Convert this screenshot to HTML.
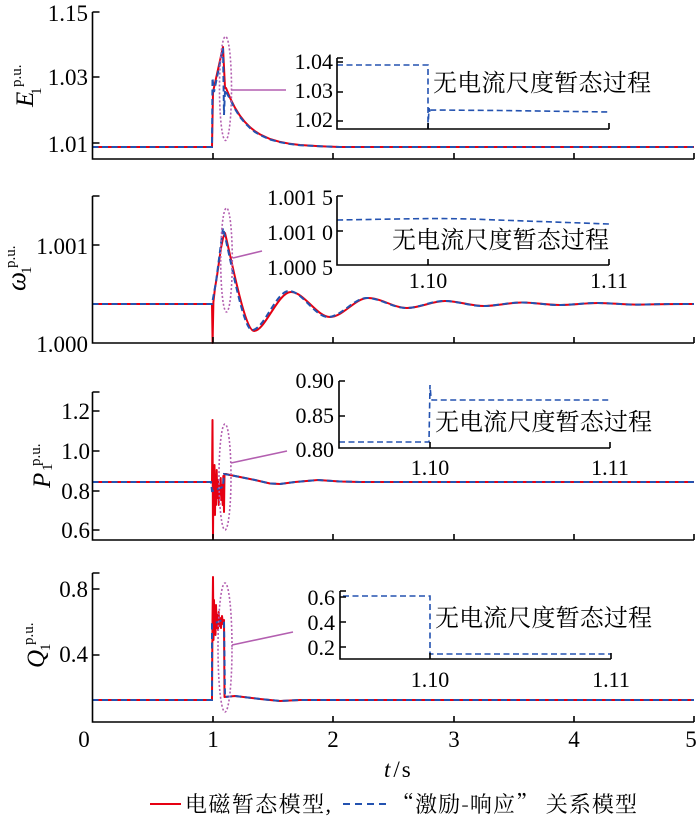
<!DOCTYPE html>
<html><head><meta charset="utf-8"><style>
html,body{margin:0;padding:0;background:#fff;}
svg{display:block;}
.n{font-family:"Liberation Serif",serif;font-size:23px;fill:#000;}
.ni{font-family:"Liberation Serif",serif;font-size:22px;fill:#000;}
.cj{font-family:"Liberation Serif","Noto Serif CJK SC",serif;font-size:24px;fill:#000;}
.lg{font-family:"Liberation Serif","Noto Serif CJK SC",serif;font-size:22px;fill:#000;}
.ax{stroke:#000;stroke-width:1.6;fill:none;}
.red{stroke:#e60012;stroke-width:2;fill:none;stroke-linejoin:round;}
.blu{stroke:#2352b0;stroke-width:2;fill:none;stroke-dasharray:6 3.5;}
.bi{stroke:#2352b0;stroke-width:1.6;fill:none;stroke-dasharray:6 3.5;}
.el{stroke:#b35fb0;stroke-width:1.6;fill:none;stroke-dasharray:2 2;}
.cn{stroke:#b35fb0;stroke-width:1.6;fill:none;}
</style></head><body>
<svg width="700" height="822" viewBox="0 0 700 822" xmlns="http://www.w3.org/2000/svg">
<rect width="700" height="822" fill="#fff"/>

<!-- ============ Panel 1: E ============ -->
<path class="red" d="M92.5,147 L212,147 L213,92 L223,47 L225,88 L226,88 L230,97.8 L235,107.8 L240,115.8 L245,122.1 L250,127.2 L255,131.2 L260,134.4 L270,139 L280,141.9 L290,143.8 L300,145 L320,146.2 L340,147 L694,147"/>
<path class="blu" d="M92.5,147 L212,147 L212.5,78 L214,92 L223,48 L224,115 L225,90 L230,99 L235,109 L240,117 L245,123 L250,128 L255,132 L260,135 L270,139.5 L280,142.2 L290,144 L300,145.2 L320,146.3 L340,147 L694,147"/>
<ellipse class="el" cx="225.5" cy="88.5" rx="6" ry="52"/>
<line class="cn" x1="231" y1="90" x2="286" y2="90"/>
<path class="ax" d="M92.5,12 L92.5,159 L694,159"/>
<path class="ax" d="M92.5,12 L99.5,12 M92.5,77 L99.5,77 M92.5,143 L99.5,143 M213,159 L213,153 M333,159 L333,153 M454,159 L454,153 M574,159 L574,153 M694,159 L694,153"/>
<text class="n" x="88" y="21" text-anchor="end">1.15</text>
<text class="n" x="88" y="85" text-anchor="end">1.03</text>
<text class="n" x="88" y="152" text-anchor="end">1.01</text>
<g transform="translate(33,107) rotate(-90)"><text class="n" x="0" y="0" style="font-style:italic;font-size:25px">E</text></g>
<g transform="translate(21,87) rotate(-90)"><text class="n" x="0" y="0" style="font-size:15px">p.u.</text></g>
<g transform="translate(41,95) rotate(-90)"><text class="n" x="0" y="0" style="font-size:15px">1</text></g>
<!-- inset 1 -->
<path class="bi" d="M337,65 L428,65 L428,129 M428,129 L429,108 L430,113 L431,110 L500,110.5 L609,112"/>
<path class="ax" d="M337,58 L337,129 L609,129 M337,58 L343,58 M337,62 L343,62 M337,92 L343,92 M337,121 L343,121 M428,129 L428,123 M609,129 L609,123"/>
<text class="ni" x="333" y="69" text-anchor="end">1.04</text>
<text class="ni" x="333" y="98" text-anchor="end">1.03</text>
<text class="ni" x="333" y="127" text-anchor="end">1.02</text>
<text class="cj" x="433" y="91" textLength="218" lengthAdjust="spacing">无电流尺度暂态过程</text>

<!-- ============ Panel 2: omega ============ -->
<path class="red" d="M92.5,304 L212,304 L212.6,343 L213.4,302 L215,288 L217,276 L219,262 L221,248 L223,238 L225,233 C232,262 245,331 254,331 C265,331 278,292 291,292 C304,292 317,317 330,317 C343,317 355,298 368,298 C381,298 394,308 407,308 C420,308 432,301 445,301 C458,301 471,306 484,306 C497,306 509,302.5 522,302.5 C535,302.5 547,305 560,305 C573,305 585,303 598,303 C611,303 623,304.6 636,304.6 C650,304.6 660,303.8 694,304"/>
<path class="blu" d="M92.5,304 L212,304 L216,282 L223,228 C230,255 243,330 252,330 C264,330 276,291 289,291 C302,291 315,317 328,317 C341,317 354,298 367,298 C380,298 393,308 406,308 C419,308 431,301 444,301 C457,301 470,306 483,306 C496,306 508,302.5 521,302.5 C534,302.5 546,305 559,305 C572,305 584,303 597,303 C610,303 622,304.6 635,304.6 C649,304.6 660,303.8 694,304"/>
<ellipse class="el" cx="226.5" cy="260" rx="5.8" ry="52"/>
<line class="cn" x1="233" y1="258" x2="262" y2="251"/>
<path class="ax" d="M92.5,196 L92.5,343 L694,343"/>
<path class="ax" d="M92.5,196 L99.5,196 M92.5,245 L99.5,245 M213,343 L213,337 M333,343 L333,337 M454,343 L454,337 M574,343 L574,337 M694,343 L694,337"/>
<text class="n" x="88" y="254" text-anchor="end">1.001</text>
<text class="n" x="88" y="352" text-anchor="end">1.000</text>
<g transform="translate(25,291) rotate(-90)"><text class="n" x="0" y="0" style="font-style:italic;font-size:27px">ω</text></g>
<g transform="translate(15,268) rotate(-90)"><text class="n" x="0" y="0" style="font-size:15px">p.u.</text></g>
<g transform="translate(31,274) rotate(-90)"><text class="n" x="0" y="0" style="font-size:15px">1</text></g>
<!-- inset 2 -->
<path class="bi" d="M337,220 C400,219 430,218 470,219 L609,224"/>
<path class="ax" d="M337,196 L337,265 L609,265 M337,196 L343,196 M337,231 L343,231 M428,265 L428,259 M609,265 L609,259"/>
<text class="ni" x="333" y="205" text-anchor="end">1.001 5</text>
<text class="ni" x="333" y="240" text-anchor="end">1.001 0</text>
<text class="ni" x="333" y="275" text-anchor="end">1.000 5</text>
<text class="ni" x="428" y="288" text-anchor="middle">1.10</text>
<text class="ni" x="609" y="288" text-anchor="middle">1.11</text>
<text class="cj" x="392" y="248" textLength="217" lengthAdjust="spacing">无电流尺度暂态过程</text>

<!-- ============ Panel 3: P ============ -->
<path class="red" d="M92.5,482 L212,482 L212.5,420 L213,538 L213.5,470 L214,500 L214.5,465 L215,515 L215.5,475 L216,505 L216.7,470 L217.3,498 L218,480 L218.7,505 L219.3,485 L220,495 L220.7,478 L221.3,500 L222,485 L222.7,505 L223.3,476 L224,512 L224.5,474 L226,474 L230,475 L240,477 L255,480 L270,483.5 L280,484 L295,482 L318,480 L340,481.5 L360,482 L694,482"/>
<path class="blu" d="M92.5,482 L211,482 L212,491 L216,490 L220,488 L223,487 L224,474 L230,475 L240,477 L255,480 L270,483.5 L280,484 L295,482 L318,480 L340,481.5 L360,482 L694,482"/>
<ellipse class="el" cx="225" cy="477" rx="6" ry="53"/>
<line class="cn" x1="231" y1="463" x2="287" y2="451"/>
<path class="ax" d="M92.5,392 L92.5,540 L694,540"/>
<path class="ax" d="M92.5,392 L99.5,392 M92.5,411 L99.5,411 M92.5,451 L99.5,451 M92.5,491 L99.5,491 M92.5,530 L99.5,530 M213,540 L213,534 M333,540 L333,534 M454,540 L454,534 M574,540 L574,534 M694,540 L694,534"/>
<text class="n" x="90" y="419" text-anchor="end">1.2</text>
<text class="n" x="90" y="459" text-anchor="end">1.0</text>
<text class="n" x="90" y="499" text-anchor="end">0.8</text>
<text class="n" x="90" y="538" text-anchor="end">0.6</text>
<g transform="translate(50,488) rotate(-90)"><text class="n" x="0" y="0" style="font-style:italic;font-size:25px">P</text></g>
<g transform="translate(40,466) rotate(-90)"><text class="n" x="0" y="0" style="font-size:15px">p.u.</text></g>
<g transform="translate(52,471) rotate(-90)"><text class="n" x="0" y="0" style="font-size:15px">1</text></g>
<!-- inset 3 -->
<path class="bi" d="M339,442 L429,442 L430,385 L431,398 L432,400 L610,400"/>
<path class="ax" d="M339,381 L339,448 L610,448 M339,381 L345,381 M339,416 L345,416 M430,448 L430,442 M610,448 L610,442"/>
<text class="ni" x="334" y="388" text-anchor="end">0.90</text>
<text class="ni" x="334" y="423" text-anchor="end">0.85</text>
<text class="ni" x="334" y="457" text-anchor="end">0.80</text>
<text class="ni" x="430" y="475" text-anchor="middle">1.10</text>
<text class="ni" x="610" y="475" text-anchor="middle">1.11</text>
<text class="cj" x="435" y="430" textLength="217" lengthAdjust="spacing">无电流尺度暂态过程</text>

<!-- ============ Panel 4: Q ============ -->
<path class="red" d="M92.5,700 L212,700 L212.5,620 L213,577 L213.5,640 L214,600 L214.5,625 L215,610 L215.5,635 L216,605 L216.7,628 L217.3,615 L218,630 L218.7,612 L219.3,626 L220,618 L221,628 L222,616 L223,624 L224,620 L224.5,697 L235,696 L260,699 L280,701 L300,700 L694,700"/>
<path class="blu" d="M92.5,700 L212,700 L212,624 L218,622 L222,620 L224,622 L225,697 L235,696 L260,699 L280,701 L300,700 L694,700"/>
<ellipse class="el" cx="225" cy="647.5" rx="7" ry="64.5"/>
<line class="cn" x1="232" y1="645" x2="293" y2="632"/>
<path class="ax" d="M92.5,573 L92.5,722 L694,722"/>
<path class="ax" d="M92.5,573 L99.5,573 M92.5,589 L99.5,589 M92.5,655 L99.5,655 M213,722 L213,716 M333,722 L333,716 M454,722 L454,716 M574,722 L574,716 M694,722 L694,716"/>
<text class="n" x="88" y="597" text-anchor="end">0.8</text>
<text class="n" x="88" y="662" text-anchor="end">0.4</text>
<g transform="translate(44,668) rotate(-90)"><text class="n" x="0" y="0" style="font-style:italic;font-size:25px">Q</text></g>
<g transform="translate(33,645) rotate(-90)"><text class="n" x="0" y="0" style="font-size:15px">p.u.</text></g>
<g transform="translate(50,651) rotate(-90)"><text class="n" x="0" y="0" style="font-size:15px">1</text></g>
<!-- inset 4 -->
<path class="bi" d="M343,596 L430,596 L430,654 L611,654"/>
<path class="ax" d="M340,591 L340,659 L611,659 M340,591 L346,591 M340,597 L346,597 M340,622 L346,622 M340,647 L346,647 M430,659 L430,653 M611,659 L611,653"/>
<text class="ni" x="335" y="605" text-anchor="end">0.6</text>
<text class="ni" x="335" y="630" text-anchor="end">0.4</text>
<text class="ni" x="335" y="655" text-anchor="end">0.2</text>
<text class="ni" x="430" y="687" text-anchor="middle">1.10</text>
<text class="ni" x="611" y="687" text-anchor="middle">1.11</text>
<text class="cj" x="435" y="626" textLength="217" lengthAdjust="spacing">无电流尺度暂态过程</text>

<!-- x tick labels -->
<text class="n" x="84" y="747" text-anchor="middle">0</text>
<text class="n" x="213" y="747" text-anchor="middle">1</text>
<text class="n" x="333" y="747" text-anchor="middle">2</text>
<text class="n" x="454" y="747" text-anchor="middle">3</text>
<text class="n" x="574" y="747" text-anchor="middle">4</text>
<text class="n" x="691" y="747" text-anchor="middle">5</text>
<text class="n" x="384" y="777"><tspan style="font-style:italic">t</tspan><tspan dx="3">/</tspan><tspan dx="2">s</tspan></text>

<!-- legend -->
<line x1="150" y1="804" x2="181" y2="804" stroke="#e60012" stroke-width="2"/>
<text class="lg" x="185" y="812" textLength="146" lengthAdjust="spacing">电磁暂态模型,</text>
<line x1="343" y1="804" x2="386" y2="804" stroke="#2352b0" stroke-width="2" stroke-dasharray="7 5"/>
<text class="lg" x="392" y="812" textLength="245" lengthAdjust="spacing"><tspan style="font-family:'Noto Serif CJK SC','Noto Sans CJK SC',serif">“</tspan>激励<tspan style="font-family:'Noto Serif CJK SC','Noto Sans CJK SC',serif">-</tspan>响应<tspan style="font-family:'Noto Serif CJK SC','Noto Sans CJK SC',serif">”</tspan> 关系模型</text>
</svg>
</body></html>
